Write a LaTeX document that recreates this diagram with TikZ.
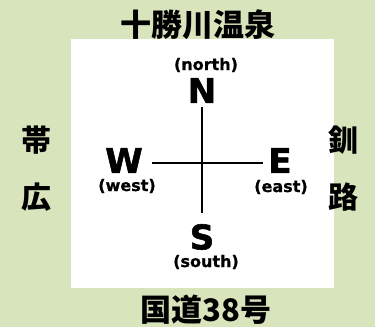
\documentclass[tikz,border=0pt]{standalone}
\usepackage{fontspec}
\setmainfont{DejaVu Sans}
\newfontfamily\heavyfont{DejaVu Sans}[BoldFeatures={FakeBold=1.6}]
\newfontfamily\labfont{DejaVu Sans}[BoldFeatures={FakeBold=0.8}]
\newfontfamily\jpfont{Noto Sans CJK JP}
\definecolor{bggreen}{RGB}{216,228,188}
\tikzset{
  dirletter/.style={font=\heavyfont\bfseries\fontsize{34}{34}\selectfont, inner sep=0pt},
  dirlabel/.style={font=\labfont\bfseries\fontsize{16}{16}\selectfont, inner sep=0pt},
  placename/.style={font=\jpfont\bfseries\fontsize{31}{31}\selectfont, inner sep=0pt},
  sidename/.style={font=\jpfont\bfseries\fontsize{30}{57}\selectfont, inner sep=0pt, align=center},
}
\begin{document}
\begin{tikzpicture}[x=1pt,y=-1pt] %compass
            \fill[bggreen] (0,0) rectangle (375,327);
            \fill[white] (71,39) rectangle (334,288);

            \node[placename] (onsen) at (198,25) {十勝川温泉};
            \node[placename] (route) at (206,310) {国道38号};
            \node[sidename] (obihiro) at (36,168.5) {帯\\広};
            \node[sidename] (kushiro) at (343,168.5) {釧\\路};

            \coordinate (hub) at (202,163);
            \node[dirletter] (nlet) at (202,90.5) {N};
            \node[dirletter] (slet) at (202,237) {S};
            \node[dirletter] (wlet) at (124,160.5) {W};
            \node[dirletter] (elet) at (280,160.5) {E};
            \node[dirlabel] (nlab) at (206,65) {(north)};
            \node[dirlabel] (slab) at (206,262) {(south)};
            \node[dirlabel] (wlab) at (127,186) {(west)};
            \node[dirlabel] (elab) at (281,187) {(east)};

            \draw[line width=1.5pt, shorten <=4pt, shorten >=11pt] (nlet.south) -- (slet.north);
            \draw[line width=1.5pt, shorten <=9pt, shorten >=5pt] (wlet.east |- hub) -- (elet.west |- hub);
\end{tikzpicture}
\end{document}
